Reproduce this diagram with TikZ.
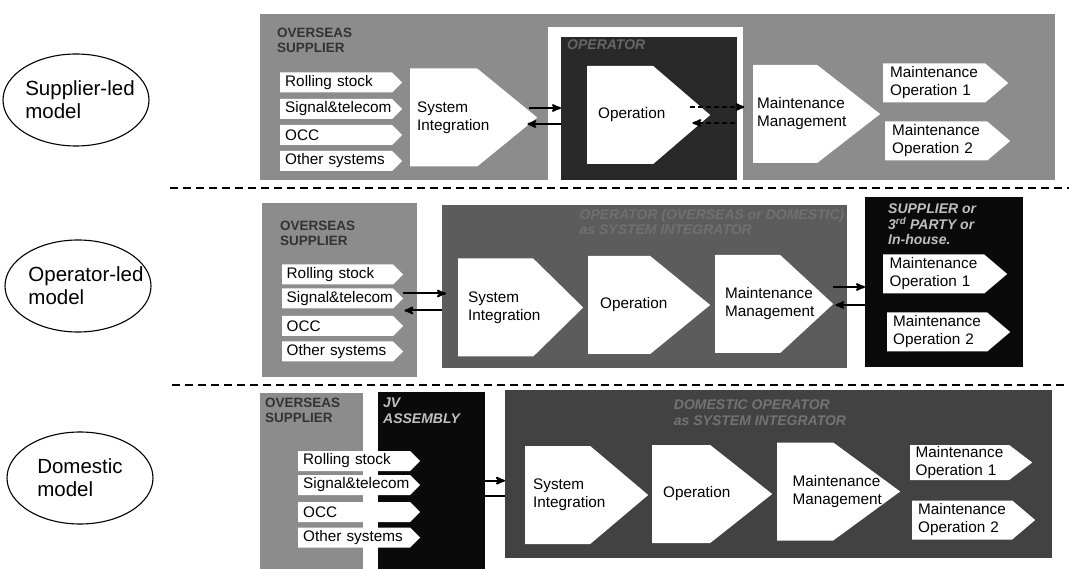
\documentclass[tikz,border=0pt]{standalone}
\usepackage{fontspec}
\setmainfont{Liberation Sans}
\usetikzlibrary{arrows,shapes.geometric,positioning}

\definecolor{supgray}{gray}{0.55}
\definecolor{opdark}{gray}{0.16}
\definecolor{opmid}{gray}{0.36}
\definecolor{opdeep}{gray}{0.26}
\definecolor{inkblack}{gray}{0.04}

\begin{document}
\begin{tikzpicture}[x=1pt,y=-1pt,>=stealth',
  region/.style={rectangle,anchor=north west,inner sep=0pt},
  arrowbox/.style={rectangle,anchor=west,inner sep=0pt,align=left,
    font=\fontsize{15.3}{18}\selectfont,
    path picture={\fill[white] (path picture bounding box.north west)
      -- ([xshift=-#1]path picture bounding box.north east)
      -- (path picture bounding box.east)
      -- ([xshift=-#1]path picture bounding box.south east)
      -- (path picture bounding box.south west) -- cycle;}},
  subsys/.style={arrowbox=10pt,minimum width=122pt,minimum height=20pt,text width=112pt},
  stage/.style={arrowbox=#1,minimum height=98pt},
  mainop/.style={arrowbox=23pt,minimum width=125pt,minimum height=39pt,text width=111pt},
  model/.style={ellipse,draw,line width=1.1pt,minimum width=146pt,minimum height=92pt},
  modeltxt/.style={inner sep=0pt,align=left,font=\fontsize{20.5}{23}\selectfont},
  tag/.style={anchor=north west,inner sep=0pt,align=left,font=\fontsize{13.5}{14.5}\selectfont\bfseries},
  note/.style={inner sep=0pt,align=left,font=\fontsize{14}{15.5}\selectfont\bfseries\itshape},
  flow/.style={->,line width=2pt},
  link/.style={line width=2pt},
  divider/.style={line width=1.6pt,dash pattern=on 8pt off 5pt}]
\useasboundingbox[fill=white] (0,0) rectangle (1069,569);

% the three models
\node[model] (sl) at (76,100) {};
\node[modeltxt] (sltxt) at ([xshift=4pt]sl.center) {Supplier-led\\model};
\node[model] (ol) at (78,286) {};
\node[modeltxt] (oltxt) at ([xshift=8pt]ol.center) {Operator-led\\model};
\node[model] (dm) at (80,478) {};
\node[modeltxt] (dmtxt) at (dm.center) {Domestic\\model};

\draw[divider] (170,188) -- (1069,188);
\draw[divider] (172,385) -- (1069,385);

% supplier-led
\node[region,fill=supgray,minimum width=795pt,minimum height=166pt] (sup1) at (260,14) {};
\node[region,fill=white,minimum width=195pt,minimum height=153pt] (frame1) at (548,27) {};
\node[region,fill=opdark,minimum width=176pt,minimum height=143pt] (opr1) at (561,37) {};
\node[tag,text=black!80] (tagsup1) at (277,28) {OVERSEAS\\SUPPLIER};
\node[note,anchor=north west,text=black!60] (tagopr1) at (567,40) {OPERATOR};
\node[subsys] (rs1) at (280,82.5) {Rolling stock};
\node[subsys] (st1) at (280,109) {Signal\&telecom};
\node[subsys] (occ1) at (280,135) {OCC};
\node[subsys] (oth1) at (280,161) {Other systems};
\node[stage=60pt,minimum width=127pt,text width=113pt] (si1) at (410,117.5) {System\\Integration};
\node[stage=57pt,minimum width=123pt,text width=101pt] (op1) at (587,115) {Operation};
\node[stage=63pt,minimum width=127pt,text width=119pt] (mm1) at (753,114) {Maintenance\\Management};
\node[mainop] (mo1a) at (883,83) {Maintenance\\Operation 1};
\node[mainop] (mo1b) at (885,141) {Maintenance\\Operation 2};
\draw[flow] ([xshift=-8pt,yshift=9.5pt]si1.east) -- ([yshift=9.5pt]si1.east -| opr1.west);
\draw[flow] ([yshift=-6.5pt]si1.east -| opr1.west) -- ([xshift=-10pt,yshift=-6.5pt]si1.east);
\draw[flow,dash pattern=on 5pt off 3pt] ([xshift=-20pt,yshift=8pt]op1.east) -- ([xshift=34pt,yshift=8pt]op1.east);
\draw[flow,dash pattern=on 5pt off 3pt] ([xshift=25pt,yshift=-8pt]op1.east) -- ([xshift=-18pt,yshift=-8pt]op1.east);

% operator-led
\node[region,fill=supgray,minimum width=155pt,minimum height=174pt] (sup2) at (262,203) {};
\node[region,fill=opmid,minimum width=405pt,minimum height=163pt] (opr2) at (442,205) {};
\node[region,fill=inkblack,minimum width=158pt,minimum height=170pt] (tp2) at (865,197) {};
\node[tag,text=black!80] (tagsup2) at (280,221) {OVERSEAS\\SUPPLIER};
\node[note,anchor=north,text=black!56] (tagopr2) at (712,209) {OPERATOR (OVERSEAS or DOMESTIC)\\as SYSTEM INTEGRATOR};
\node[note,anchor=north west,text=black!25] (tagtp2) at (888,204) {SUPPLIER or\\3\textsuperscript{rd} PARTY or\\In-house.};
\node[subsys,minimum width=121pt] (rs2) at (282,274.5) {Rolling stock};
\node[subsys,minimum width=121pt] (st2) at (282,298.5) {Signal\&telecom};
\node[subsys,minimum width=121pt] (occ2) at (282,326) {OCC};
\node[subsys,minimum width=121pt] (oth2) at (282,351.5) {Other systems};
\node[stage=50pt,minimum width=125pt,text width=105pt] (si2) at (458,307.5) {System\\Integration};
\node[stage=60pt,minimum width=122pt,text width=98pt] (op2) at (588,305) {Operation};
\node[stage=53pt,minimum width=118pt,text width=98pt] (mm2) at (715,304) {Maintenance\\Management};
\node[mainop,minimum width=124pt] (mo2a) at (883,274) {Maintenance\\Operation 1};
\node[mainop,minimum width=123pt] (mo2b) at (887,332) {Maintenance\\Operation 2};
\draw[flow] ([yshift=5pt]st2.east) -- ([xshift=4pt,yshift=5pt]st2.east -| opr2.west);
\draw[flow] ([yshift=-12pt]st2.east -| opr2.west) -- ([xshift=1pt,yshift=-12pt]st2.east);
\draw[flow] ([yshift=17pt]mm2.east) -- ([yshift=17pt]mm2.east -| tp2.west);
\draw[flow] ([yshift=-1pt]mm2.east -| tp2.west) -- ([xshift=2pt,yshift=-1pt]mm2.east);

% domestic
\node[region,fill=supgray,minimum width=103pt,minimum height=176pt] (sup3) at (260,393) {};
\node[region,fill=inkblack,minimum width=107pt,minimum height=177pt] (jv3) at (378,392) {};
\node[region,fill=opdeep,minimum width=547pt,minimum height=168pt] (big3) at (505,390) {};
\node[tag,text=black!80] (tagsup3) at (265,398) {OVERSEAS\\SUPPLIER};
\node[note,anchor=north west,text=black!25] (tagjv3) at (383,398) {JV\\ASSEMBLY};
\node[note,anchor=north,text=black!55] (tagbig3) at (760,400) {DOMESTIC OPERATOR\\as SYSTEM INTEGRATOR};
\node[subsys] (rs3) at (298,461) {Rolling stock};
\node[subsys] (st3) at (298,485) {Signal\&telecom};
\node[subsys] (occ3) at (298,512) {OCC};
\node[subsys] (oth3) at (298,537.5) {Other systems};
\node[stage=58pt,minimum width=123pt,text width=107pt] (si3) at (525,495) {System\\Integration};
\node[stage=62pt,minimum width=120pt,text width=98pt] (op3) at (652,494) {Operation};
\node[stage=67pt,minimum width=123pt,text width=92pt] (mm3) at (777,491.5) {Maintenance\\Management};
\node[mainop,minimum width=122pt,minimum height=35pt] (mo3a) at (910,462.5) {Maintenance\\Operation 1};
\node[mainop,minimum width=123pt] (mo3b) at (912,520) {Maintenance\\Operation 2};
\draw[flow] (jv3.east) -- (jv3.east -| big3.west);
\draw[link] ([yshift=-15pt]jv3.east) -- ([yshift=-15pt]jv3.east -| big3.west);
\end{tikzpicture}
\end{document}
